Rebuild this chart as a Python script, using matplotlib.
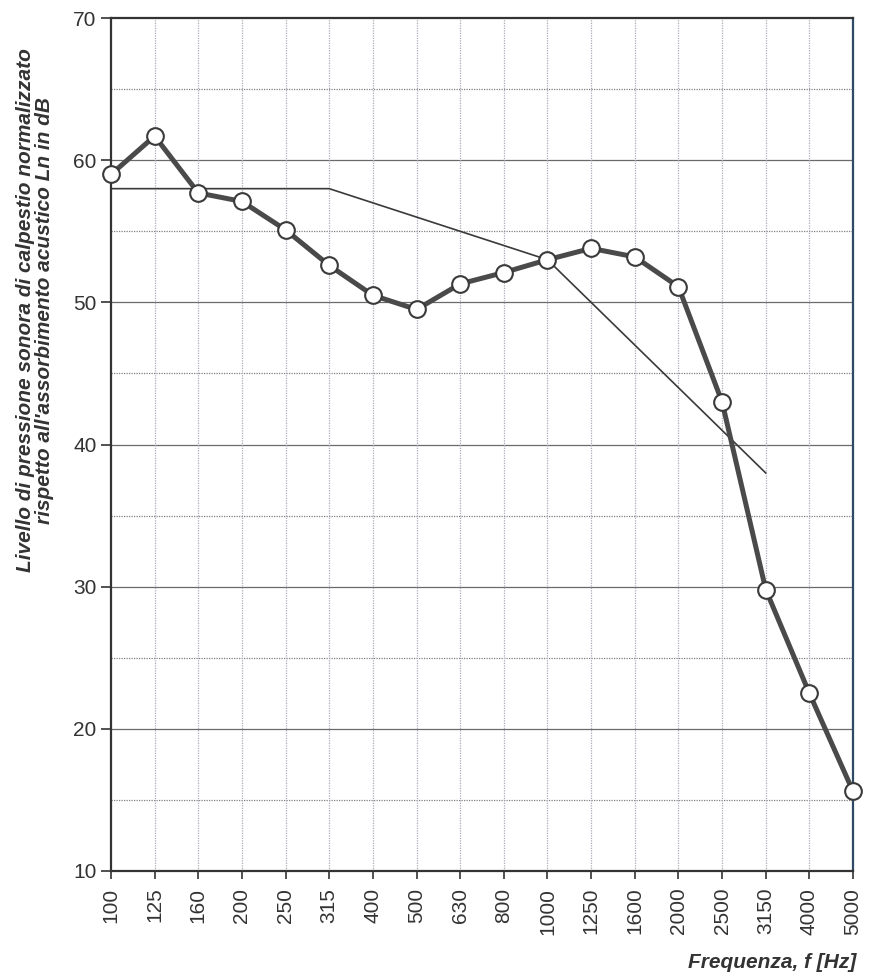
import matplotlib.pyplot as plt
import numpy as np

plt.rcParams["font.family"] = ["Liberation Sans", "DejaVu Sans"]

# Third-octave band centre frequencies
FREQ = ["100", "125", "160", "200", "250", "315", "400", "500", "630",
        "800", "1000", "1250", "1600", "2000", "2500", "3150", "4000", "5000"]

# Measured normalised impact sound pressure level L'n (dB)
LN = [59.0, 61.7, 57.7, 57.1, 55.1, 52.6, 50.5, 49.5, 51.3,
      52.1, 53.0, 53.8, 53.2, 51.1, 43.0, 29.8, 22.5, 15.6]

# Shifted reference curve, 100..3150 Hz
REF = [58, 58, 58, 58, 58, 58, 57, 56, 55, 54, 53, 50, 47, 44, 41, 38]

x = np.arange(len(FREQ))

fig = plt.figure(figsize=(8.74, 9.77), dpi=100)
ax = fig.add_axes([0.127, 0.1085, 0.849, 0.873])

# grid: solid every 10 dB, dotted every 5 dB, dotted at each band
for v in range(15, 70, 10):
    ax.axhline(v, color="#808080", lw=0.9, ls=(0, (1, 1)), zorder=1)
for v in range(20, 70, 10):
    ax.axhline(v, color="#6a6a6a", lw=0.9, zorder=1)
for xi in x[1:-1]:
    ax.axvline(xi, color="#a8adb8", lw=0.9, ls=(0, (1, 1)), zorder=1)

ax.plot(x[:len(REF)], REF, color="#3a3a3a", lw=1.2, zorder=2)
ax.plot(x, LN, color="#4a4a4a", lw=3.6, marker="o", ms=12,
        mfc="white", mec="#3a3a3a", mew=1.5, zorder=3, clip_on=False)

ax.set_xlim(0, len(FREQ) - 1)
ax.set_ylim(10, 70)
ax.set_xticks(x)
ax.set_xticklabels(FREQ, rotation=90, fontsize=15, color="#333333")
ax.set_yticks(range(10, 71, 10))
ax.tick_params(axis="y", labelsize=15, labelcolor="#333333", length=7,
               width=1.2, color="#333333")
ax.tick_params(axis="x", length=6, width=1.2, color="#333333", pad=6)

for side in ["left", "bottom", "top"]:
    ax.spines[side].set_color("#333333")
    ax.spines[side].set_linewidth(1.6)
ax.spines["right"].set_color("#2f4a66")
ax.spines["right"].set_linewidth(1.6)

fig.text(0.04, 1 - 310 / 977,
         "Livello di pressione sonora di calpestio normalizzato\n"
         "rispetto all'assorbimento acustico Ln in dB",
         rotation=90, ha="center", va="center", multialignment="center",
         fontsize=15, fontstyle="italic", fontweight="bold", color="#333333",
         linespacing=1.05)
fig.text(0.98, 1 - 962 / 977, "Frequenza, f [Hz]", ha="right", va="center",
         fontsize=15, fontstyle="italic", fontweight="bold", color="#333333")

fig.savefig("out.png", dpi=100)
